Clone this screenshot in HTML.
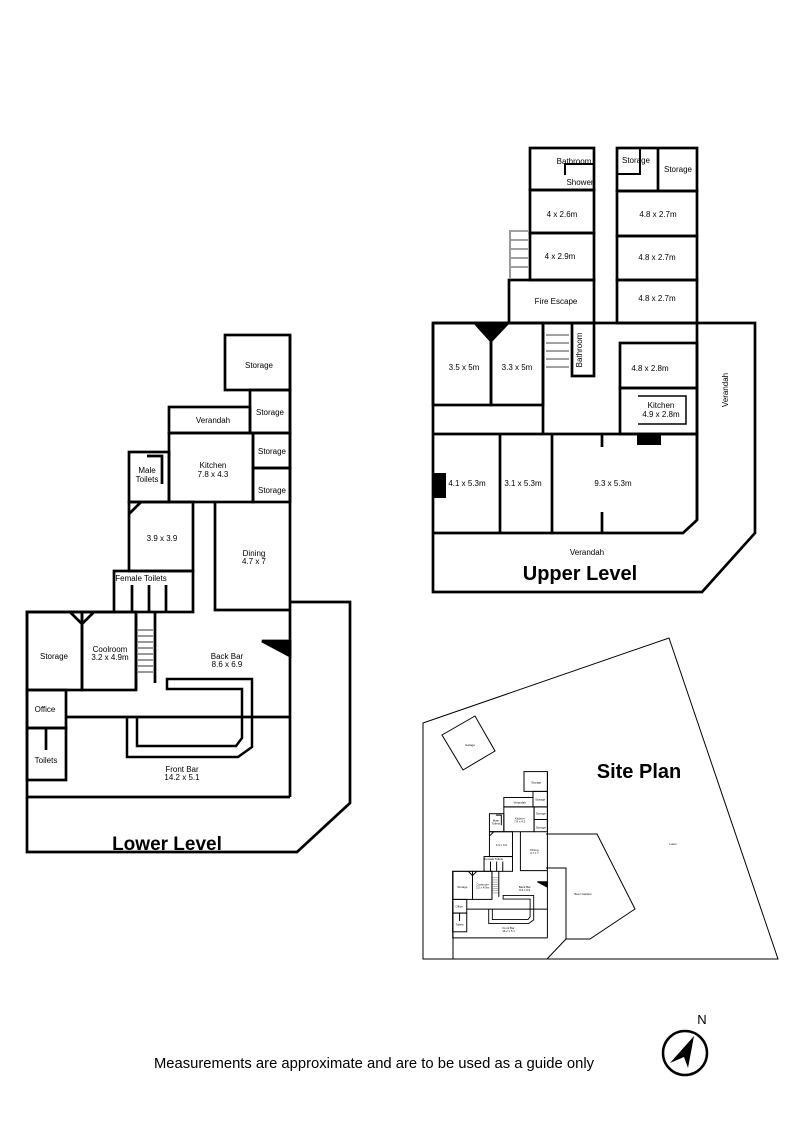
<!DOCTYPE html>
<html><head><meta charset="utf-8"><style>
html,body{margin:0;padding:0;background:#fff;}
svg{display:block;font-family:"Liberation Sans",sans-serif;}
</style></head><body>
<svg width="800" height="1131" viewBox="0 0 800 1131" xmlns="http://www.w3.org/2000/svg">
<defs>
<g id="bld" fill="none" stroke="#000" stroke-width="2.7">
  <rect x="225" y="335" width="65" height="55"/>
  <rect x="250" y="390" width="40" height="43"/>
  <rect x="169" y="407" width="81" height="26"/>
  <rect x="169" y="433" width="84" height="69"/>
  <rect x="253" y="433" width="37" height="35"/>
  <rect x="253" y="468" width="37" height="34"/>
  <rect x="129" y="452" width="40" height="50"/>
  <polyline points="147,456 162,456 162,484"/>
  <rect x="129" y="502" width="64" height="69"/>
  <line x1="129" y1="514" x2="141" y2="502"/>
  <rect x="114" y="571" width="79" height="41"/>
  <line x1="132" y1="585" x2="132" y2="612"/><line x1="149" y1="585" x2="149" y2="612"/><line x1="166" y1="585" x2="166" y2="612"/>
  <polyline points="215,502 215,610 290,610"/>
  <line x1="290" y1="335" x2="290" y2="797"/>
  <polyline points="114,612 27,612 27,797 290,797"/>
  <rect x="27" y="612" width="55" height="78"/>
  <rect x="82" y="612" width="54" height="78"/>
  <polyline points="70,612 82,624 94,612"/>
  <line x1="136" y1="612" x2="136" y2="690"/><line x1="155" y1="612" x2="155" y2="683"/>
  <rect x="27" y="690" width="39" height="38"/>
  <rect x="27" y="728" width="39" height="52"/>
  <line x1="46" y1="728" x2="46" y2="750"/>
  <line x1="66" y1="717" x2="290" y2="717"/>
  <polyline points="127,717 127,757 238,757 252,747 252,679 167,679 167,689 242,689 242,738 236,746 137,746 137,717" stroke-width="2.5"/>
  <polygon points="262,641 290,641 290,656" fill="#000"/>
  <g stroke="#000" stroke-width="0.8" fill="none">
    <line x1="138" y1="630" x2="153" y2="630"/><line x1="138" y1="636" x2="153" y2="636"/><line x1="138" y1="642" x2="153" y2="642"/><line x1="138" y1="648" x2="153" y2="648"/><line x1="138" y1="654" x2="153" y2="654"/><line x1="138" y1="660" x2="153" y2="660"/><line x1="138" y1="666" x2="153" y2="666"/><line x1="138" y1="672" x2="153" y2="672"/>
  </g>
  <g font-size="8" fill="#000" stroke="none" text-anchor="middle">
    <text x="259" y="368">Storage</text>
    <text x="270" y="415">Storage</text>
    <text x="213" y="423">Verandah</text>
    <text x="213" y="468">Kitchen</text><text x="213" y="477">7.8 x 4.3</text>
    <text x="272" y="454">Storage</text>
    <text x="272" y="493">Storage</text>
    <text x="147" y="473">Male</text><text x="147" y="482">Toilets</text>
    <text x="162" y="541">3.9 x 3.9</text>
    <text x="141" y="581">Female Toilets</text>
    <text x="254" y="556">Dining</text><text x="254" y="564">4.7 x 7</text>
    <text x="54" y="659">Storage</text>
    <text x="110" y="652">Coolroom</text><text x="110" y="660">3.2 x 4.9m</text>
    <text x="227" y="659">Back Bar</text><text x="227" y="667">8.6 x 6.9</text>
    <text x="45" y="712">Office</text>
    <text x="46" y="763">Toilets</text>
    <text x="182" y="772">Front Bar</text><text x="182" y="780">14.2 x 5.1</text>
  </g>
</g>
</defs>

<use href="#bld"/>
<polyline points="290,602 350,602 350,803 297,852 27,852 27,797" fill="none" stroke="#000" stroke-width="2.7"/>
<text x="167" y="850" font-size="19" font-weight="bold" text-anchor="middle">Lower Level</text>

<g fill="none" stroke="#000" stroke-width="2.7">
  <polyline points="433,323 755,323 755,533 702,592 433,592 433,323"/>
  <rect x="530" y="148" width="64" height="42"/>
  <rect x="530" y="190" width="64" height="43"/>
  <rect x="530" y="233" width="64" height="47"/>
  <rect x="509" y="280" width="85" height="43"/>
  <polyline points="565,175 565,164 594,164" stroke-width="2"/>
  <rect x="617" y="148" width="80" height="43"/>
  <line x1="658" y1="148" x2="658" y2="191"/>
  <polyline points="617,174 640,174 640,148" stroke-width="2"/>
  <rect x="617" y="191" width="80" height="45"/>
  <rect x="617" y="236" width="80" height="44"/>
  <rect x="617" y="280" width="80" height="43"/>
  <line x1="697" y1="323" x2="697" y2="520"/>
  <rect x="433" y="323" width="58" height="82"/>
  <rect x="491" y="323" width="52" height="82"/>
  <line x1="543" y1="323" x2="543" y2="434"/>
  <rect x="572" y="323" width="22" height="53"/>
  <rect x="620" y="343" width="77" height="45"/>
  <rect x="620" y="388" width="77" height="46"/>
  <polyline points="638,396 686,396 686,424 638,424" stroke-width="1.5"/>
  <polyline points="433,434 697,434 697,520 683,533 433,533"/>
  <line x1="500" y1="434" x2="500" y2="533"/>
  <line x1="552" y1="434" x2="552" y2="533"/>
  <line x1="602" y1="434" x2="602" y2="447"/><line x1="602" y1="512" x2="602" y2="533"/>
  <g stroke-width="0.8">
    <line x1="511" y1="231" x2="528" y2="231"/><line x1="511" y1="240" x2="528" y2="240"/><line x1="511" y1="249" x2="528" y2="249"/><line x1="511" y1="258" x2="528" y2="258"/><line x1="511" y1="267" x2="528" y2="267"/>
    <line x1="510" y1="230" x2="510" y2="278"/>
    <line x1="546" y1="335" x2="569" y2="335"/><line x1="546" y1="343" x2="569" y2="343"/><line x1="546" y1="351" x2="569" y2="351"/><line x1="546" y1="359" x2="569" y2="359"/><line x1="546" y1="367" x2="569" y2="367"/>
  </g>
</g>
<polygon points="473,323 510,323 491,343" fill="#000"/>
<rect x="637" y="434" width="24" height="11" fill="#000"/>
<rect x="433" y="473" width="13" height="25" fill="#000"/>
<g font-size="8" text-anchor="middle">
  <text x="574" y="164">Bathroom</text>
  <text x="580" y="185">Shower</text>
  <text x="636" y="163">Storage</text>
  <text x="678" y="172">Storage</text>
  <text x="562" y="217">4 x 2.6m</text>
  <text x="560" y="259">4 x 2.9m</text>
  <text x="556" y="304">Fire Escape</text>
  <text x="658" y="217">4.8 x 2.7m</text>
  <text x="657" y="260">4.8 x 2.7m</text>
  <text x="657" y="301">4.8 x 2.7m</text>
  <text x="464" y="370">3.5 x 5m</text>
  <text x="517" y="370">3.3 x 5m</text>
  <text x="650" y="371">4.8 x 2.8m</text>
  <text x="661" y="408">Kitchen</text><text x="661" y="417">4.9 x 2.8m</text>
  <text x="467" y="486">4.1 x 5.3m</text>
  <text x="523" y="486">3.1 x 5.3m</text>
  <text x="613" y="486">9.3 x 5.3m</text>
  <text x="587" y="555">Verandah</text>
  <text transform="translate(728,390) rotate(-90)">Verandah</text>
  <text transform="translate(582,350) rotate(-90)">Bathroom</text>
</g>
<text x="580" y="580" font-size="20" font-weight="bold" text-anchor="middle">Upper Level</text>

<g fill="none" stroke="#000" stroke-width="1">
  <polygon points="423,723 669,638 778,959 423,959"/>
  <polygon points="442,735 475,716 495,751 463,770"/>
  <polyline points="546,834 597,834 635,909 590,939 566,939 566,868 546,868"/>
  <polyline points="453,959 453,872"/>
  <polyline points="566,939 547,959"/>
</g>
<use href="#bld" transform="translate(443,651) scale(0.36)"/>
<g font-size="3" text-anchor="middle"><text x="470" y="746">Garage</text><text x="673" y="845">Lawn</text><text x="583" y="895">Beer Garden</text></g>
<text x="639" y="778" font-size="20" font-weight="bold" text-anchor="middle">Site Plan</text>

<text x="702" y="1024" font-size="13" text-anchor="middle">N</text>
<circle cx="685" cy="1053" r="22" fill="none" stroke="#000" stroke-width="2.5"/>
<polygon points="694,1036 688,1068 684,1057 670,1063" fill="#000"/>

<text x="374" y="1068" font-size="14.8" text-anchor="middle">Measurements are approximate and are to be used as a guide only</text>
</svg>
</body></html>
